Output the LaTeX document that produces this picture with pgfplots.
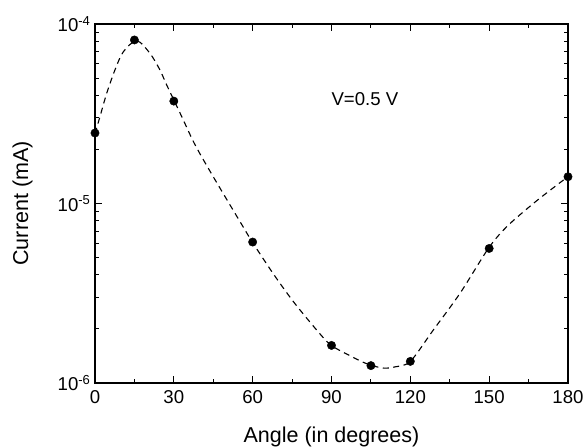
\documentclass[border=0pt]{standalone}
\usepackage{fontspec}
\setmainfont{Liberation Sans}
\usepackage{pgfplots}
\pgfplotsset{compat=1.18}
\newcommand{\labfont}{\fontsize{21.5bp}{25bp}\selectfont}
\begin{document}
\begin{tikzpicture}[font=\fontsize{18.6bp}{22bp}\selectfont]
\path[use as bounding box] (-95bp,-64bp) rectangle (491bp,383bp);
\begin{axis}[
  scale only axis, width=473bp, height=359bp,
  at={(0,0)}, anchor=south west,
  ymode=log, xmin=0, xmax=180, ymin=1e-6, ymax=1e-4,
  xtick={0,30,...,180}, minor xtick={15,45,...,165},
  ytick={1e-6,1e-5,1e-4},
  yticklabels={10\textsuperscript{-6},10\textsuperscript{-5},10\textsuperscript{-4}},
  minor ytick={2e-6,3e-6,4e-6,5e-6,6e-6,7e-6,8e-6,9e-6,2e-5,3e-5,4e-5,5e-5,6e-5,7e-5,8e-5,9e-5},
  tick align=inside, major tick length=7bp, minor tick length=4bp,
  axis line style={line width=1.3bp},
  every tick/.style={line width=1bp, black},
  tick label style={font=\fontsize{18.6bp}{22bp}\selectfont},
  /pgf/number format/assume math mode=true,
  xticklabel style={yshift=-4bp},
  yticklabel style={xshift=-1bp},
  xlabel={\labfont Angle (in degrees)}, ylabel={\labfont Current (mA)},
  every axis x label/.style={at={(axis description cs:0.5,-0.1663)}, anchor=base},
  every axis y label/.style={at={(axis description cs:-0.153,0.5)}, anchor=center, rotate=90},
]
% fitted dashed curve
\addplot[black, line width=1.1bp, dash pattern=on 6bp off 4.5bp, smooth] coordinates {
(0,2.45e-5) (1.9,3.05e-5) (4.45,4.11e-5) (7.6,5.55e-5) (10.8,7.01e-5) (15.9,8.07e-5)
(20.9,6.87e-5) (24.7,5.55e-5) (27.3,4.57e-5) (33.0,3.05e-5) (38.1,2.12e-5)
(45.0,1.41e-5) (55.2,7.92e-6) (60,6.06e-6) (67.8,4.07e-6) (75.5,2.84e-6)
(84.4,1.97e-6) (89.7,1.63e-6) (97.0,1.42e-6) (104,1.27e-6) (110,1.21e-6)
(114.2,1.23e-6) (120,1.32e-6) (128.7,1.97e-6) (138.9,3.16e-6) (149.7,5.62e-6)
(156.7,7.43e-6) (166.8,1.0e-5) (175.7,1.265e-5) (180,1.41e-5)
};
% measured points
\addplot[only marks, mark=*, mark size=4.2bp, black] coordinates {
(0,2.47e-5) (15,8.15e-5) (30,3.72e-5) (60,6.1e-6) (90,1.62e-6)
(105,1.25e-6) (120,1.32e-6) (150,5.62e-6) (180,1.41e-5)
};
\node[anchor=center] at (axis cs:102.7,3.82e-5) {V=0.5 V};
\end{axis}
\end{tikzpicture}
\end{document}
